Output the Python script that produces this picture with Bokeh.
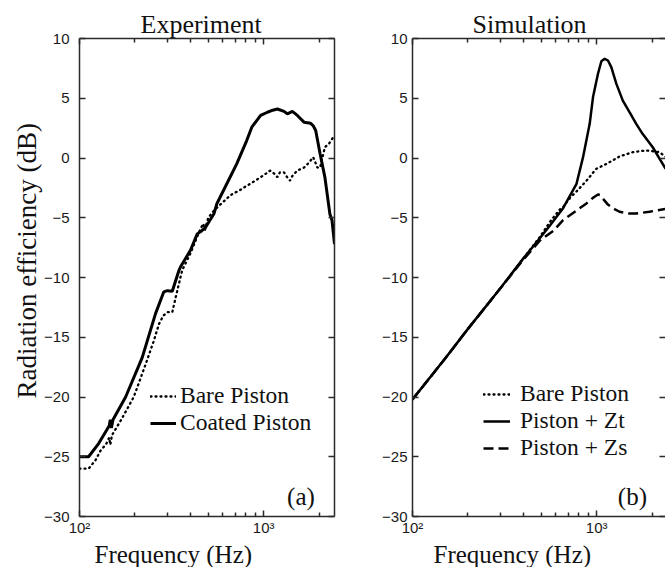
from bokeh.plotting import figure
from bokeh.models import (LinearAxis, LogAxis, FixedTicker, Legend, LegendItem,
                          Label, Range1d, Title)
from bokeh.layouts import row
from bokeh.embed import file_html
from bokeh.resources import INLINE

# ---------------- data ----------------
# Panel (a): Experiment
exp_bare_freq = [100, 112, 122, 130, 140, 145, 147, 150, 170, 197, 215, 233, 252,
                 270, 285, 300, 319, 333, 347, 361, 380, 400, 430, 455, 470, 480,
                 500, 537, 600, 662, 740, 815, 900, 963, 1030, 1083, 1140, 1187,
                 1225, 1290, 1340, 1390, 1432, 1524, 1656, 1760, 1858, 1958, 2025,
                 2150, 2264, 2425]
exp_bare_db = [-26.0, -26.0, -25.3, -24.5, -23.9, -23.4, -24.0, -23.2, -21.8, -20.0,
               -18.4, -16.9, -15.4, -13.9, -13.2, -12.9, -12.9, -11.65, -10.5, -9.4,
               -8.7, -8.0, -6.8, -5.9, -5.5, -6.0, -5.0, -4.4, -3.7, -3.1, -2.7,
               -2.3, -1.9, -1.6, -1.3, -1.05, -1.3, -1.6, -1.2, -1.2, -1.6, -1.9,
               -1.5, -1.05, -0.8, -0.4, 0.07, -0.8, -0.8, 0.9, 1.2, 1.9]

exp_coat_freq = [100, 112, 127, 140, 145, 147, 149, 152, 178, 219, 259, 287, 300,
                 319, 347, 354, 401, 436, 460, 484, 537, 557, 605, 714, 809, 862,
                 963, 1048, 1120, 1187, 1290, 1345, 1432, 1524, 1656, 1800, 1858,
                 1917, 2025, 2150, 2290, 2350, 2425]
exp_coat_db = [-25.0, -25.0, -23.9, -22.8, -22.4, -21.9, -22.6, -21.9, -20.0, -16.7,
               -13.0, -11.2, -11.1, -11.15, -9.4, -9.1, -7.7, -6.35, -6.1, -5.8,
               -4.67, -3.83, -2.72, -0.49, 1.46, 2.58, 3.56, 3.83, 4.0, 4.1, 3.9,
               3.7, 3.9, 3.56, 3.0, 2.9, 2.7, 2.3, 0.35, -1.6, -4.7, -5.2, -7.2]

# Panel (b): Simulation
sim_bare_freq = [100, 150, 200, 300, 400, 492, 560, 631, 657, 720, 777, 880, 995,
                 1127, 1330, 1571, 1857, 2190, 2368]
sim_bare_db = [-20.2, -16.8, -14.3, -10.9, -8.4, -6.6, -5.3, -4.3, -4.1, -3.3,
               -2.8, -1.9, -0.9, -0.5, 0.13, 0.49, 0.63, 0.49, 0.1]

sim_zt_freq = [100, 150, 200, 300, 400, 492, 560, 657, 777, 843, 916, 955, 1016,
               1060, 1105, 1151, 1200, 1279, 1386, 1507, 1639, 1778, 2015, 2200,
               2368]
sim_zt_db = [-20.2, -16.8, -14.3, -10.9, -8.4, -6.7, -5.6, -4.2, -2.16, 0.07, 2.86,
             5.1, 7.05, 8.1, 8.3, 8.16, 7.6, 6.2, 4.8, 3.83, 2.86, 2.0, 0.9, -0.1,
             -0.9]

sim_zs_freq = [100, 150, 200, 300, 400, 492, 581, 657, 777, 880, 960, 1016, 1040,
               1080, 1151, 1225, 1330, 1500, 1639, 1932, 2368]
sim_zs_db = [-20.2, -16.8, -14.3, -10.9, -8.5, -6.9, -6.1, -5.2, -4.4, -3.8, -3.3,
             -3.05, -3.1, -3.4, -3.9, -4.2, -4.5, -4.65, -4.65, -4.5, -4.25]

# ---------------- ticks ----------------
Y_TICKS = [-30, -25, -20, -15, -10, -5, 0, 5, 10]
Y_LABELS = {t: (("\u2212%d" % -t) if t < 0 else "%d" % t) for t in Y_TICKS}
X_MAJOR = [100, 1000]
X_MINOR = [200, 300, 400, 500, 600, 700, 800, 900, 2000]
X_LABELS = {100: "10\u00b2", 1000: "10\u00b3"}

SERIF = "Liberation Serif"
SANS = "Liberation Sans"
AX = "#2a2a2a"
H = 567


def style_axis(ax, labels=True):
    ax.axis_line_color = AX
    ax.axis_line_width = 1.5
    ax.major_tick_line_color = AX
    ax.major_tick_line_width = 1.5
    ax.minor_tick_line_color = AX
    ax.minor_tick_line_width = 1.5
    ax.major_tick_in = 6
    ax.major_tick_out = 0
    ax.minor_tick_in = 4
    ax.minor_tick_out = 0
    ax.major_label_text_font = SANS
    ax.major_label_text_color = "#1a1a1a"
    if labels:
        ax.major_label_text_font_size = "15px"
    else:
        ax.major_label_text_font_size = "1px"
        ax.major_label_text_color = None
        ax.major_label_standoff = 0


def make_panel(title, width, border_left, border_right, x_end, ylab_standoff,
               title_offset, xlabel_offset):
    p = figure(width=width, height=H, x_axis_type="log",
               x_range=Range1d(100, x_end), y_range=Range1d(-30, 10),
               output_backend="svg", toolbar_location=None,
               min_border_left=border_left, min_border_right=border_right,
               min_border_top=38, min_border_bottom=51, title=title)
    p.title.text_font = SERIF
    p.title.text_font_size = "26px"
    p.title.text_font_style = "normal"
    p.title.align = "left"
    p.title.offset = title_offset
    p.title.standoff = 0
    p.title.text_color = "#111111"
    p.xgrid.visible = False
    p.ygrid.visible = False
    p.outline_line_color = None
    p.background_fill_color = "white"
    p.border_fill_color = "white"

    xa = p.xaxis[0]
    xa.ticker = FixedTicker(ticks=X_MAJOR, minor_ticks=X_MINOR)
    style_axis(xa)
    xa.major_label_overrides = X_LABELS
    xa.major_label_standoff = 2

    xlab = Title(text="Frequency (Hz)", align="left", offset=xlabel_offset,
                 standoff=0, text_font=SERIF, text_font_size="25px",
                 text_font_style="normal", text_color="#111111")
    p.add_layout(xlab, "below")

    ya = p.yaxis[0]
    ya.ticker = FixedTicker(ticks=Y_TICKS)
    style_axis(ya)
    ya.major_label_overrides = Y_LABELS
    ya.major_label_standoff = ylab_standoff

    top = LogAxis(ticker=FixedTicker(ticks=X_MAJOR, minor_ticks=X_MINOR))
    style_axis(top, labels=False)
    top.major_label_overrides = {100: " ", 1000: " "}
    right = LinearAxis(ticker=FixedTicker(ticks=Y_TICKS))
    style_axis(right, labels=False)
    p.add_layout(top, "above")
    p.add_layout(right, "right")
    return p, right


def add_legend_row(p, label, renderer, y_loc, x_loc, glyph_w, standoff):
    leg = Legend(items=[LegendItem(label=label, renderers=[renderer])],
                 location=(x_loc, y_loc), orientation="vertical")
    leg.label_text_font = SERIF
    leg.label_text_font_size = "23.5px"
    leg.label_text_color = "#111111"
    leg.glyph_width = glyph_w
    leg.glyph_height = 18
    leg.label_height = 18
    leg.label_standoff = standoff
    leg.spacing = 0
    leg.padding = 0
    leg.margin = 0
    leg.border_line_color = None
    leg.background_fill_alpha = 0
    p.add_layout(leg)


# ---------------- panel (a) ----------------
p1, _ = make_panel("Experiment", 342, 79, 8, 2425, 10, 61, 15)
ylab = Title(text="Radiation efficiency (dB)", align="left", offset=118,
             standoff=0, text_font=SERIF, text_font_size="27px",
             text_font_style="normal", text_color="#111111")
p1.add_layout(ylab, "left")
r1b = p1.line(exp_bare_freq, exp_bare_db, line_color="black", line_width=2.3,
              line_dash="1 4", line_cap="round")
r1c = p1.line(exp_coat_freq, exp_coat_db, line_color="black", line_width=3)
add_legend_row(p1, "Bare Piston", r1b, 107, 71, 26, 4)
add_legend_row(p1, "Coated Piston", r1c, 80, 71, 26, 4)
p1.add_layout(Label(x=1897, y=-28.3, text="(a)", text_align="right",
                    text_baseline="alphabetic", text_font=SERIF,
                    text_font_size="25px", text_color="#111111"))

# ---------------- panel (b) ----------------
p2, right2 = make_panel("Simulation", 323, 70, 0, 2363, 5, 60, 21)
right2.axis_line_color = None
r2b = p2.line(sim_bare_freq, sim_bare_db, line_color="black", line_width=2.3,
              line_dash="1 4", line_cap="round")
r2t = p2.line(sim_zt_freq, sim_zt_db, line_color="black", line_width=2.5)
r2s = p2.line(sim_zs_freq, sim_zs_db, line_color="black", line_width=2.5,
              line_dash="10 5")
add_legend_row(p2, "Bare Piston", r2b, 109, 71, 27, 10)
add_legend_row(p2, "Piston + Zt", r2t, 82, 71, 27, 10)
add_legend_row(p2, "Piston + Zs", r2s, 55, 71, 27, 10)
p2.add_layout(Label(x=1875, y=-28.3, text="(b)", text_align="right",
                    text_baseline="alphabetic", text_font=SERIF,
                    text_font_size="25px", text_color="#111111"))

layout = row(p1, p2)
open("out.html", "w").write(file_html(layout, INLINE))
